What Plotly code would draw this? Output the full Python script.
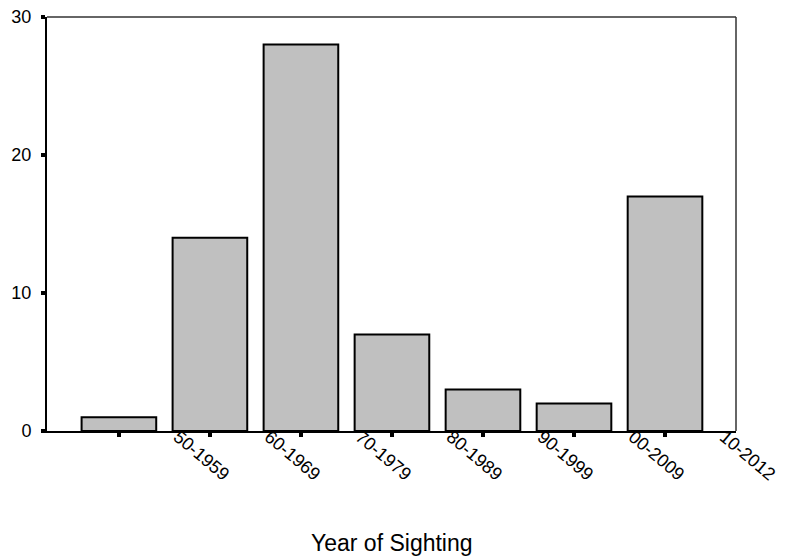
import plotly.graph_objects as go

categories = ["1940-1949", "1950-1959", "1960-1969", "1970-1979", "1980-1989", "1990-1999", "2000-2009"]
counts = [1, 14, 28, 7, 3, 2, 17]
tick_labels = ["50-1959", "60-1969", "70-1979", "80-1989", "90-1999", "00-2009", "10-2012"]
y_ticks = [0, 10, 20, 30]

x_pos = list(range(len(categories)))
label_pos = [i + 0.65 for i in range(len(tick_labels))]

FONT = "Liberation Sans, Arial, sans-serif"

fig = go.Figure()
fig.add_trace(go.Bar(
    x=x_pos, y=counts, width=0.82,
    marker=dict(color="#c0c0c0", line=dict(color="black", width=2)),
    hovertext=categories,
))

xr = [-0.79, 6.78]
fig.update_layout(
    width=785, height=557,
    margin=dict(l=47, r=49, t=17, b=126),
    paper_bgcolor="white", plot_bgcolor="white",
    showlegend=False,
    font=dict(family=FONT, color="black", size=18),
    xaxis=dict(range=xr, tickvals=x_pos, showticklabels=False, automargin=False,
               ticks="outside", ticklen=4, tickwidth=4, tickcolor="black",
               showline=True, linewidth=2, linecolor="black",
               showgrid=False, zeroline=False),
    xaxis2=dict(range=xr, overlaying="x", side="bottom", anchor="y", automargin=False,
                tickvals=label_pos, ticktext=tick_labels, tickangle=40,
                ticks="", showline=False, showgrid=False, zeroline=False,
                ticklabelstandoff=-9,
                tickfont=dict(size=18, family=FONT)),
    yaxis=dict(range=[0, 30], tickvals=y_ticks, automargin=False,
               ticks="outside", ticklen=4, tickwidth=4, tickcolor="black",
               ticklabelstandoff=6,
               showline=True, linewidth=2, linecolor="black",
               showgrid=False, zeroline=False,
               tickfont=dict(size=18, family=FONT)),
    shapes=[
        dict(type="line", xref="paper", yref="paper", x0=0, x1=1, y0=1, y1=1,
             line=dict(color="#333333", width=1.5)),
        dict(type="line", xref="paper", yref="paper", x0=1, x1=1, y0=0, y1=1,
             line=dict(color="#333333", width=1.5)),
    ],
    annotations=[dict(text="Year of Sighting", xref="paper", yref="paper",
                      x=0.5, y=-0.27, xanchor="center", yanchor="middle",
                      showarrow=False, font=dict(size=23, family=FONT))],
)
fig.add_trace(go.Scatter(x=[None], y=[None], xaxis="x2", showlegend=False))

fig.write_html("out.html", config={"displayModeBar": False},
               post_script="document.body.style.margin='0';")
